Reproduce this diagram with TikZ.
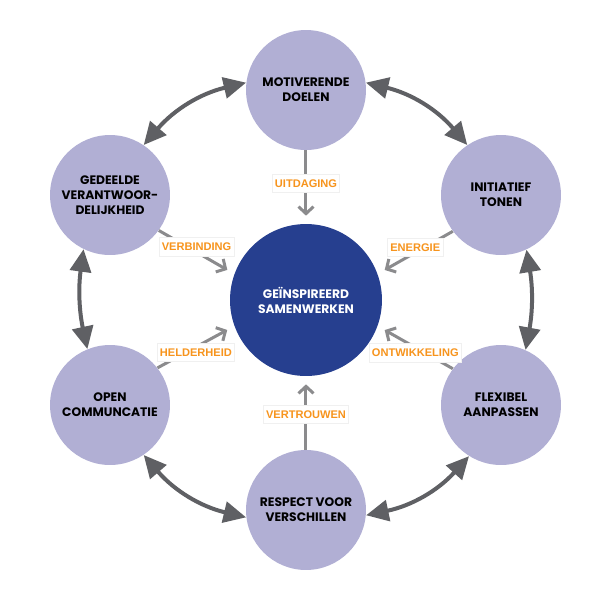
\documentclass[tikz,border=0pt]{standalone}
\usepackage{fontspec}
\usepackage{xcolor}
\usetikzlibrary{arrows.meta}
\setmainfont{Liberation Sans}
\newfontfamily\circfont{Poppins}

\definecolor{lavender}{HTML}{B1AFD4}
\definecolor{navy}{HTML}{263F8F}
\definecolor{ringgray}{HTML}{5F6064}
\definecolor{flowgray}{HTML}{8B8B8D}
\definecolor{labelorange}{HTML}{F7941D}

\begin{document}
\begin{tikzpicture}[x=0.02cm, y=0.02cm,
  outer/.style={circle, fill=lavender, minimum size=2.4cm, inner sep=0pt, align=center,
    font=\circfont\bfseries\fontsize{7}{8.5}\selectfont},
  core/.style={circle, fill=navy, text=white, minimum size=3.04cm, inner sep=0pt, align=center,
    font=\circfont\bfseries\fontsize{7}{8.5}\selectfont},
  ring/.style={<->, >={Triangle[length=0.45cm,width=0.42cm]}, line width=0.08cm, draw=ringgray},
  flow/.style={-{Straight Barb[length=0.14cm,width=0.3cm]}, line width=0.06cm, draw=flowgray, shorten >=0.16cm},
  lbl/.style={fill=white, draw=gray!12, line width=0.3pt, text=labelorange, inner xsep=1.5pt, inner ysep=3pt,
    font=\bfseries\fontsize{6.3}{7}\selectfont}]
\useasboundingbox (-306,-300) rectangle (294,300);

\node[core] (core) at (0,0) {GEÏNSPIREERD\\SAMENWERKEN};

\node[outer] (top) at (0,210) {MOTIVERENDE\\DOELEN};
\node[outer] (tr) at (195,105) {INITIATIEF\\TONEN};
\node[outer] (br) at (195,-105) {FLEXIBEL\\AANPASSEN};
\node[outer] (bottom) at (0,-210) {RESPECT VOOR\\VERSCHILLEN};
\node[outer] (bl) at (-196,-105) {OPEN\\COMMUNCATIE};
\node[outer] (tl) at (-196,105) {GEDEELDE\\VERANTWOOR-\\DELIJKHEID};

% ring
\draw[ring] (top.173) to[bend right=18] (tl.56);
\draw[ring] (tl.-116) to[bend right=10] (bl.112);
\draw[ring] (bl.-56) to[bend right=18] (bottom.-173);
\draw[ring] (top.7) to[bend left=18] (tr.124);
\draw[ring] (tr.-65) to[bend left=10] (br.66);
\draw[ring] (br.-122) to[bend left=18] (bottom.-5);

% flows to the middle
\draw[flow] (top) -- node[lbl, pos=0.45] {UITDAGING} (core);
\draw[flow] (bottom) -- node[lbl, pos=0.48] {VERTROUWEN} (core);
\draw[flow] (tl.-36) -- node[lbl, yshift=3pt] {VERBINDING} (core.160);
\draw[flow] (bl.38) -- node[lbl, yshift=-3pt] {HELDERHEID} (core.-160);
\draw[flow] (tr.217) -- node[lbl, yshift=3pt] {ENERGIE} (core.20);
\draw[flow] (br.143) -- node[lbl, yshift=-3pt] {ONTWIKKELING} (core.-20);
\end{tikzpicture}
\end{document}
